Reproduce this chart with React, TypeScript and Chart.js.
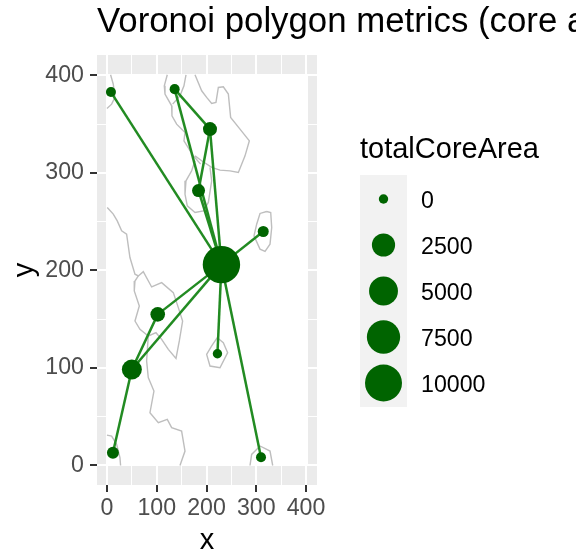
import React, { useEffect, useRef } from "react";
import { Chart, registerables } from "chart.js";

Chart.register(...registerables);

const FONT = '"Liberation Sans", Arial, sans-serif';
const titleText = "Voronoi polygon metrics (core area)";
const legendTitle = "totalCoreArea";
const legendBreaks = [0, 2500, 5000, 7500, 10000];
const axisTicks = [0, 100, 200, 300, 400];

const nodeX = [8, 136, 207, 184, 314, 230, 102, 50, 12, 222, 309.5];
const nodeY = [383, 386, 345, 282, 240, 206, 155, 98.5, 13, 114.6, 8.5];
const coreArea = [5, 5, 278, 170, 34, 10290, 355, 1475, 89, 0, 5];

const edgesFrom = [0, 1, 1, 3, 2, 3, 4, 6, 7, 7, 8, 9, 10];
const edgesTo = [5, 2, 5, 2, 5, 5, 5, 5, 6, 5, 7, 5, 5];

const contourA = [[7.3, 400.7], [12.7, 391], [16, 377.5], [9.4, 370.6], [0, 366.2]];
const contourB = [[121.2, 400.7], [115.2, 389.4], [116.6, 380.9], [130, 368.9], [130.6, 358.7], [140, 350.1], [156.8, 341.6], [154.7, 333], [173.5, 317.6], [188.2, 309.1]];
const contourB2 = [[158.8, 400.7], [154.7, 389.4], [146.7, 379.2], [132, 370.6]];
const contourC = [[176.9, 400.7], [190.3, 384.3], [200.3, 377.5], [210.4, 371.3], [219, 372.4], [223.8, 387.7], [233.8, 388.4], [243.9, 380.9], [248.5, 357], [267.3, 345], [286.1, 333], [277.4, 317.6], [264, 300.5], [247.2, 302.2], [227.1, 302.9], [210.4, 305.7], [190.3, 312.5], [176.9, 317.6]];
const contourD = [[176.9, 312.5], [170.2, 302.2], [158.8, 292], [156.8, 278.3], [161.4, 266.3], [176.9, 259.5], [193.6, 261.2], [203.7, 269.8], [210.4, 292], [207, 305.7]];
const contourE = [[320.9, 260.5], [307.5, 258.5], [300.8, 247.5], [295.4, 235.5], [307.5, 221.9], [317.6, 219.5], [327.6, 227], [331, 244], [329, 259.5], [320.9, 260.5]];
const contourF = [[0.6, 264.6], [12.7, 257.8], [20.7, 250.9], [29.5, 240.7], [39.5, 237.3], [46.2, 213.3], [56.3, 196.2], [63, 194.4], [73, 198.8], [89.8, 183.1], [109.9, 187.5], [133.3, 177.3], [143.4, 161.9], [152, 148.2], [145.4, 127.7], [138.7, 109.9], [123.3, 119.1], [109.9, 129.4], [98.5, 136.2], [83, 132.8], [79.7, 107.2], [83, 90.1], [94.4, 76.4], [86.4, 54.1], [103.2, 43.9], [121.2, 47.3], [130, 38.8], [150, 35.3], [156.8, 14.8], [146.7, 0]];
const contourF2 = [[63, 194.4], [56.3, 189.2], [54.9, 179], [65, 163.6], [56.3, 148.2], [66.3, 139.7], [83, 132.8]];
const contourI = [[0, 31.2], [9.4, 30.2], [19.4, 21.7], [26.1, 8], [27.4, 0]];
const contourJ = [[221.7, 131.1], [210.4, 122.6], [200.3, 114], [207, 102], [227.1, 100.3], [242.5, 115.7], [233.8, 126], [221.7, 131.1]];
const contourK = [[287.4, 0], [290.7, 11.4], [307.5, 20], [327.6, 14.8], [333, 0]];
const contours = [contourA, contourB, contourB2, contourC, contourD, contourE, contourF, contourF2, contourI, contourJ, contourK];

const sizeFor = (v: number) => 4.7 + 13.8 * Math.sqrt(v / 10000);

const backgroundPlugin = {
  id: "panelAndLegend",
  beforeDraw(chart: any) {
    const { ctx, chartArea: a } = chart;
    ctx.save();
    ctx.fillStyle = "#EBEBEB";
    ctx.fillRect(a.left, a.top, a.right - a.left, a.bottom - a.top);
    ctx.restore();
  },
  beforeDatasetsDraw(chart: any) {
    const { ctx, scales } = chart;
    const l = scales.x.getPixelForValue(-2);
    const r = scales.x.getPixelForValue(404);
    const t = scales.y.getPixelForValue(400.7);
    const b = scales.y.getPixelForValue(0);
    ctx.save();
    ctx.fillStyle = "#FFFFFF";
    ctx.fillRect(l, t, r - l, b - t);
    ctx.restore();
  },
  afterDraw(chart: any) {
    const { ctx, chartArea } = chart;
    ctx.save();
    ctx.fillStyle = "#000000";
    ctx.textBaseline = "alphabetic";
    ctx.textAlign = "left";
    ctx.font = `34.8px ${FONT}`;
    ctx.fillText(titleText, chartArea.left, 32);
    ctx.textBaseline = "middle";
    ctx.font = `29px ${FONT}`;
    ctx.fillText(legendTitle, 360, 150);
    ctx.fillStyle = "#F2F2F2";
    ctx.fillRect(360, 175, 47, 232);
    const ys = [199, 245, 291, 337, 383];
    legendBreaks.forEach((b, i) => {
      ctx.fillStyle = "#006400";
      ctx.beginPath();
      ctx.arc(383.5, ys[i], sizeFor(b), 0, Math.PI * 2);
      ctx.fill();
      ctx.fillStyle = "#000000";
      ctx.font = `23.2px ${FONT}`;
      ctx.fillText(String(b), 421, ys[i] + 2.5);
    });
    ctx.restore();
  },
};

const axisOptions = (title: string, size: number, isX: boolean) => ({
  type: "linear" as const,
  min: -20,
  max: isX ? 422 : 421,
  afterBuildTicks(scale: any) {
    const out: any[] = [];
    axisTicks.forEach((v, i) => {
      out.push({ value: v });
      if (i < axisTicks.length - 1) out.push({ value: v + 50 });
    });
    scale.ticks = out;
  },
  afterFit(scale: any) {
    if (isX) scale.height = size;
    else scale.width = size;
  },
  border: { display: false },
  grid: {
    color: "#FFFFFF",
    lineWidth: (c: any) => (c.tick && c.tick.value % 100 === 0 ? 2 : 1),
    tickColor: (c: any) => (c.tick && c.tick.value % 100 === 0 ? "#333333" : "rgba(0,0,0,0)"),
    tickWidth: 2,
    tickLength: 7,
    drawTicks: true,
  },
  ticks: {
    autoSkip: false,
    maxRotation: 0,
    minRotation: 0,
    padding: isX ? 3 : 6,
    color: "#4D4D4D",
    font: { family: FONT, size: 23.2 },
    callback: (v: any) => (Number(v) % 100 === 0 ? String(v) : ""),
  },
  title: {
    display: true,
    text: title,
    color: "#000000",
    font: { family: FONT, size: 29 },
    padding: isX ? { top: 0, bottom: -6 } : { top: 8, bottom: 0 },
  },
});

export default function App() {
  const ref = useRef<HTMLCanvasElement>(null);
  useEffect(() => {
    document.body.style.margin = "0";
    const edgeSets = edgesFrom.map((f, i) => ({
      type: "scatter" as const,
      showLine: true,
      order: 2,
      data: [
        { x: nodeX[f], y: nodeY[f] },
        { x: nodeX[edgesTo[i]], y: nodeY[edgesTo[i]] },
      ],
      borderColor: "#228B22",
      borderWidth: 2.5,
      pointRadius: 0,
    }));
    const contourSets = contours.map((c) => ({
      type: "scatter" as const,
      showLine: true,
      order: 3,
      data: c.map(([x, y]) => ({ x, y })),
      borderColor: "#BEBEBE",
      borderWidth: 1.4,
      pointRadius: 0,
    }));
    const nodes = {
      type: "scatter" as const,
      order: 1,
      data: nodeX.map((x, i) => ({ x, y: nodeY[i] })),
      backgroundColor: "#006400",
      borderWidth: 0,
      pointRadius: coreArea.map(sizeFor),
    };
    const chart = new Chart(ref.current as HTMLCanvasElement, {
      type: "scatter",
      data: { datasets: [nodes, ...edgeSets, ...contourSets] as any },
      options: {
        animation: false,
        responsive: false,
        layout: { padding: { left: 0, right: 259, top: 55, bottom: 0 } },
        scales: { x: axisOptions("x", 67, true), y: axisOptions("y", 97, false) } as any,
        plugins: {
          legend: { display: false },
          tooltip: { enabled: false },
        },
      } as any,
      plugins: [backgroundPlugin],
    });
    return () => chart.destroy();
  }, []);
  return <canvas ref={ref} width={576} height={552} style={{ display: "block" }} />;
}
